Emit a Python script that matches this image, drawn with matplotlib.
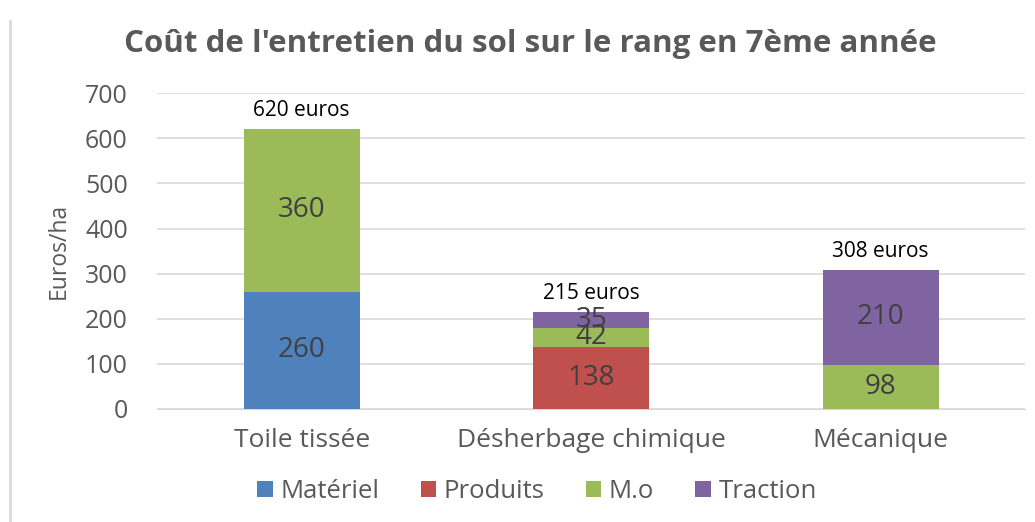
import numpy as np
import matplotlib.pyplot as plt

plt.rcParams['font.family'] = ['Open Sans', 'DejaVu Sans']

categories = ["Toile tissée", "Désherbage chimique", "Mécanique"]
series_names = ["Matériel", "Produits", "M.o", "Traction"]
materiel = [260, 0, 0]
produits = [0, 138, 0]
main_oeuvre = [360, 42, 98]
traction = [0, 35, 210]
totals = [620, 215, 308]

colors = ["#4F81BD", "#C0504D", "#9BBB59", "#8064A2"]
gray = "#595959"

fig = plt.figure(figsize=(10.35, 5.22), dpi=100)
ax = fig.add_axes([0.1517, 0.2165, 0.839, 0.605])

x = np.arange(len(categories))
bottom = np.zeros(len(categories))
for name, vals, col in zip(series_names, [materiel, produits, main_oeuvre, traction], colors):
    vals = np.array(vals, dtype=float)
    bars = ax.bar(x, vals, 0.4, bottom=bottom, color=col, label=name, zorder=3)
    for b, v, y0 in zip(bars, vals, bottom):
        if v > 0:
            ax.text(b.get_x() + b.get_width() / 2, y0 + v / 2, f"{int(v)}",
                    ha="center", va="center", fontsize=20, color="#404040", zorder=4)
    bottom += vals

for xi, t in zip(x, totals):
    ax.text(xi, t + 42, f"{t} euros", ha="center", va="center", fontsize=15, color="black")

ax.set_xlim(-0.5, 2.5)
ax.set_ylim(0, 700)
ax.set_yticks(range(0, 701, 100))
ax.yaxis.grid(True, color="#D9D9D9", linewidth=1.2, zorder=0)
for s in ax.spines.values():
    s.set_visible(False)
ax.spines['bottom'].set_visible(True)
ax.spines['bottom'].set_color("#D9D9D9")
ax.tick_params(axis='both', length=0, colors=gray)
ax.tick_params(axis='y', labelsize=18, pad=21)
ax.tick_params(axis='x', labelsize=19, pad=14)
ax.set_xticks(x)
ax.set_xticklabels(categories)
ax.set_ylabel("Euros/ha", fontsize=16.5, color=gray, labelpad=10)

fig.suptitle("Coût de l'entretien du sol sur le rang en 7ème année",
             x=0.512, y=0.945, fontsize=22.5, fontweight="bold", color=gray)

fig.legend(loc="center", bbox_to_anchor=(0.519, 0.058), ncol=4, frameon=False,
           fontsize=18.5, handlelength=0.6, handleheight=0.6, handletextpad=0.3,
           columnspacing=1.6, labelcolor=gray)

fig.add_artist(plt.Line2D([0.01, 0.01], [0, 0.96], color="#D9D9D9", linewidth=2,
                          transform=fig.transFigure))

fig.savefig("out.png", dpi=100)
